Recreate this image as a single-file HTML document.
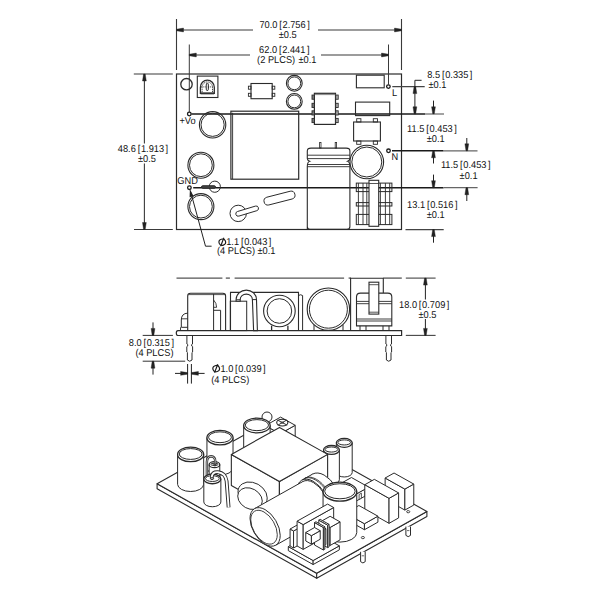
<!DOCTYPE html>
<html><head><meta charset="utf-8"><style>
html,body{margin:0;padding:0;background:#fff;width:612px;height:591px;overflow:hidden;}
svg{display:block;}
text{font-family:"Liberation Sans",sans-serif;fill:#111;text-rendering:geometricPrecision;}
</style></head><body>
<svg width="612" height="591" viewBox="0 0 612 591">
<rect width="612" height="591" fill="#fff"/>
<rect x="176.5" y="74.0" width="225.0" height="155.5" rx="0" fill="none" stroke="#2b2b2b" stroke-width="1.2"/>
<line x1="176.5" y1="19" x2="176.5" y2="70" stroke="#3a3a3a" stroke-width="1.1" />
<line x1="401.5" y1="19" x2="401.5" y2="70" stroke="#3a3a3a" stroke-width="1.1" />
<line x1="176.5" y1="30" x2="253" y2="30" stroke="#3a3a3a" stroke-width="1.1" />
<line x1="318" y1="30" x2="401.5" y2="30" stroke="#3a3a3a" stroke-width="1.1" />
<polygon points="176.50,29.20 183.50,28.10 183.50,31.90 176.50,30.80" fill="#222" stroke="#222" stroke-width="0.4" stroke-linejoin="round"/>
<polygon points="401.50,29.20 394.50,28.10 394.50,31.90 401.50,30.80" fill="#222" stroke="#222" stroke-width="0.4" stroke-linejoin="round"/>
<text x="259.41" y="27.8" font-size="9.5" textLength="18.03" lengthAdjust="spacingAndGlyphs" transform="matrix(1,0,0,1.05,0,-1.390)">70.0</text>
<text x="279.24" y="27.8" font-size="9.5" textLength="2.57" lengthAdjust="spacingAndGlyphs" transform="matrix(1,0,0,1.05,0,-1.390)">[</text>
<text x="282.51" y="27.8" font-size="9.5" textLength="23.18" lengthAdjust="spacingAndGlyphs" transform="matrix(1,0,0,1.05,0,-1.390)">2.756</text>
<text x="307.19" y="27.8" font-size="9.5" textLength="2.57" lengthAdjust="spacingAndGlyphs" transform="matrix(1,0,0,1.05,0,-1.390)">]</text>
<text x="278.71" y="37.6" font-size="9.5" textLength="17.96" lengthAdjust="spacingAndGlyphs" transform="matrix(1,0,0,1.05,0,-1.880)">±0.5</text>
<line x1="189.3" y1="44.5" x2="189.3" y2="112" stroke="#3a3a3a" stroke-width="1.0" />
<line x1="388.5" y1="44.5" x2="388.5" y2="84.5" stroke="#3a3a3a" stroke-width="1.0" />
<line x1="189.3" y1="55" x2="250" y2="55" stroke="#3a3a3a" stroke-width="1.1" />
<line x1="321" y1="55" x2="388.5" y2="55" stroke="#3a3a3a" stroke-width="1.1" />
<polygon points="189.30,54.20 196.30,53.10 196.30,56.90 189.30,55.80" fill="#222" stroke="#222" stroke-width="0.4" stroke-linejoin="round"/>
<polygon points="388.50,54.20 381.50,53.10 381.50,56.90 388.50,55.80" fill="#222" stroke="#222" stroke-width="0.4" stroke-linejoin="round"/>
<text x="259.11" y="53.3" font-size="9.5" textLength="18.03" lengthAdjust="spacingAndGlyphs" transform="matrix(1,0,0,1.05,0,-2.665)">62.0</text>
<text x="278.94" y="53.3" font-size="9.5" textLength="2.57" lengthAdjust="spacingAndGlyphs" transform="matrix(1,0,0,1.05,0,-2.665)">[</text>
<text x="282.21" y="53.3" font-size="9.5" textLength="23.18" lengthAdjust="spacingAndGlyphs" transform="matrix(1,0,0,1.05,0,-2.665)">2.441</text>
<text x="306.89" y="53.3" font-size="9.5" textLength="2.57" lengthAdjust="spacingAndGlyphs" transform="matrix(1,0,0,1.05,0,-2.665)">]</text>
<text x="257.10" y="62.6" font-size="9.5" textLength="38.09" lengthAdjust="spacingAndGlyphs" transform="matrix(1,0,0,1.05,0,-3.130)">(2 PLCS)</text>
<text x="298.51" y="62.6" font-size="9.5" textLength="17.96" lengthAdjust="spacingAndGlyphs" transform="matrix(1,0,0,1.05,0,-3.130)">±0.1</text>
<line x1="133.8" y1="74" x2="172.8" y2="74" stroke="#3a3a3a" stroke-width="1.1" />
<line x1="134" y1="229.5" x2="172.8" y2="229.5" stroke="#3a3a3a" stroke-width="1.1" />
<line x1="144.4" y1="74" x2="144.4" y2="143.5" stroke="#3a3a3a" stroke-width="1.1" />
<line x1="144.4" y1="163.5" x2="144.4" y2="229.5" stroke="#3a3a3a" stroke-width="1.1" />
<polygon points="143.60,74.00 142.50,81.00 146.30,81.00 145.20,74.00" fill="#222" stroke="#222" stroke-width="0.4" stroke-linejoin="round"/>
<polygon points="143.60,229.50 142.50,222.50 146.30,222.50 145.20,229.50" fill="#222" stroke="#222" stroke-width="0.4" stroke-linejoin="round"/>
<text x="117.81" y="152.2" font-size="9.5" textLength="18.03" lengthAdjust="spacingAndGlyphs" transform="matrix(1,0,0,1.05,0,-7.610)">48.6</text>
<text x="137.64" y="152.2" font-size="9.5" textLength="2.57" lengthAdjust="spacingAndGlyphs" transform="matrix(1,0,0,1.05,0,-7.610)">[</text>
<text x="140.91" y="152.2" font-size="9.5" textLength="23.18" lengthAdjust="spacingAndGlyphs" transform="matrix(1,0,0,1.05,0,-7.610)">1.913</text>
<text x="165.59" y="152.2" font-size="9.5" textLength="2.57" lengthAdjust="spacingAndGlyphs" transform="matrix(1,0,0,1.05,0,-7.610)">]</text>
<text x="137.91" y="162" font-size="9.5" textLength="17.96" lengthAdjust="spacingAndGlyphs" transform="matrix(1,0,0,1.05,0,-8.100)">±0.5</text>
<circle cx="189.3" cy="114" r="1.8" fill="none" stroke="#1a1a1a" stroke-width="1.3"/>
<circle cx="388.4" cy="86.6" r="1.8" fill="none" stroke="#1a1a1a" stroke-width="1.3"/>
<circle cx="388.5" cy="150.8" r="1.8" fill="none" stroke="#1a1a1a" stroke-width="1.3"/>
<circle cx="189.4" cy="187.7" r="1.8" fill="none" stroke="#1a1a1a" stroke-width="1.3"/>
<line x1="191.4" y1="114" x2="425" y2="114" stroke="#1a1a1a" stroke-width="1.4" />
<line x1="425" y1="114" x2="444" y2="114" stroke="#666" stroke-width="1.2" />
<line x1="392.3" y1="86.6" x2="424.7" y2="86.6" stroke="#444" stroke-width="1.1" />
<line x1="392.0" y1="150.8" x2="443.5" y2="150.8" stroke="#1a1a1a" stroke-width="1.4" />
<line x1="443.5" y1="150.8" x2="477.5" y2="150.8" stroke="#666" stroke-width="1.2" />
<line x1="193.2" y1="187.7" x2="443.5" y2="187.7" stroke="#1a1a1a" stroke-width="1.4" />
<line x1="443.5" y1="187.7" x2="477.6" y2="187.7" stroke="#666" stroke-width="1.2" />
<line x1="405.5" y1="229.6" x2="443.7" y2="229.6" stroke="#444" stroke-width="1.1" />
<text x="179.41" y="124" font-size="9.5" textLength="16.23" lengthAdjust="spacingAndGlyphs" transform="matrix(1,0,0,1.05,0,-6.200)">+Vo</text>
<text x="392.02" y="96.3" font-size="9.5" textLength="5.15" lengthAdjust="spacingAndGlyphs" transform="matrix(1,0,0,1.05,0,-4.815)">L</text>
<text x="391.42" y="160" font-size="9.5" textLength="6.69" lengthAdjust="spacingAndGlyphs" transform="matrix(1,0,0,1.05,0,-8.000)">N</text>
<text x="177.31" y="184.1" font-size="9.5" textLength="20.58" lengthAdjust="spacingAndGlyphs" transform="matrix(1,0,0,1.05,0,-9.205)">GND</text>
<line x1="414.9" y1="80.3" x2="414.9" y2="113.8" stroke="#222" stroke-width="1.0" />
<line x1="414.9" y1="80.3" x2="421.6" y2="80.3" stroke="#222" stroke-width="1.0" />
<polygon points="414.10,86.60 413.00,93.60 416.80,93.60 415.70,86.60" fill="#222" stroke="#222" stroke-width="0.4" stroke-linejoin="round"/>
<polygon points="414.10,113.80 413.00,106.80 416.80,106.80 415.70,113.80" fill="#222" stroke="#222" stroke-width="0.4" stroke-linejoin="round"/>
<text x="427.21" y="78.3" font-size="9.5" textLength="12.88" lengthAdjust="spacingAndGlyphs" transform="matrix(1,0,0,1.05,0,-3.915)">8.5</text>
<text x="441.89" y="78.3" font-size="9.5" textLength="2.57" lengthAdjust="spacingAndGlyphs" transform="matrix(1,0,0,1.05,0,-3.915)">[</text>
<text x="445.16" y="78.3" font-size="9.5" textLength="23.18" lengthAdjust="spacingAndGlyphs" transform="matrix(1,0,0,1.05,0,-3.915)">0.335</text>
<text x="469.84" y="78.3" font-size="9.5" textLength="2.57" lengthAdjust="spacingAndGlyphs" transform="matrix(1,0,0,1.05,0,-3.915)">]</text>
<text x="428.41" y="88" font-size="9.5" textLength="17.96" lengthAdjust="spacingAndGlyphs" transform="matrix(1,0,0,1.05,0,-4.400)">±0.1</text>
<line x1="433.5" y1="100.6" x2="433.5" y2="113.8" stroke="#222" stroke-width="1.0" />
<polygon points="432.70,113.80 431.60,106.80 435.40,106.80 434.30,113.80" fill="#222" stroke="#222" stroke-width="0.4" stroke-linejoin="round"/>
<line x1="433.5" y1="150.8" x2="433.5" y2="163.5" stroke="#222" stroke-width="1.0" />
<polygon points="432.70,150.80 431.60,157.80 435.40,157.80 434.30,150.80" fill="#222" stroke="#222" stroke-width="0.4" stroke-linejoin="round"/>
<text x="407.12" y="132" font-size="9.5" textLength="17.34" lengthAdjust="spacingAndGlyphs" transform="matrix(1,0,0,1.05,0,-6.600)">11.5</text>
<text x="426.26" y="132" font-size="9.5" textLength="2.57" lengthAdjust="spacingAndGlyphs" transform="matrix(1,0,0,1.05,0,-6.600)">[</text>
<text x="429.53" y="132" font-size="9.5" textLength="23.18" lengthAdjust="spacingAndGlyphs" transform="matrix(1,0,0,1.05,0,-6.600)">0.453</text>
<text x="454.21" y="132" font-size="9.5" textLength="2.57" lengthAdjust="spacingAndGlyphs" transform="matrix(1,0,0,1.05,0,-6.600)">]</text>
<text x="426.71" y="142.2" font-size="9.5" textLength="17.96" lengthAdjust="spacingAndGlyphs" transform="matrix(1,0,0,1.05,0,-7.110)">±0.1</text>
<line x1="466.8" y1="138" x2="466.8" y2="150.8" stroke="#222" stroke-width="1.0" />
<polygon points="466.00,150.80 464.90,143.80 468.70,143.80 467.60,150.80" fill="#222" stroke="#222" stroke-width="0.4" stroke-linejoin="round"/>
<line x1="466.8" y1="187.7" x2="466.8" y2="201" stroke="#222" stroke-width="1.0" />
<polygon points="466.00,187.70 464.90,194.70 468.70,194.70 467.60,187.70" fill="#222" stroke="#222" stroke-width="0.4" stroke-linejoin="round"/>
<text x="440.92" y="168.5" font-size="9.5" textLength="17.34" lengthAdjust="spacingAndGlyphs" transform="matrix(1,0,0,1.05,0,-8.425)">11.5</text>
<text x="460.06" y="168.5" font-size="9.5" textLength="2.57" lengthAdjust="spacingAndGlyphs" transform="matrix(1,0,0,1.05,0,-8.425)">[</text>
<text x="463.33" y="168.5" font-size="9.5" textLength="23.18" lengthAdjust="spacingAndGlyphs" transform="matrix(1,0,0,1.05,0,-8.425)">0.453</text>
<text x="488.01" y="168.5" font-size="9.5" textLength="2.57" lengthAdjust="spacingAndGlyphs" transform="matrix(1,0,0,1.05,0,-8.425)">]</text>
<text x="459.61" y="178.8" font-size="9.5" textLength="17.96" lengthAdjust="spacingAndGlyphs" transform="matrix(1,0,0,1.05,0,-8.940)">±0.1</text>
<line x1="433.5" y1="174.6" x2="433.5" y2="187.7" stroke="#222" stroke-width="1.0" />
<polygon points="432.70,187.70 431.60,180.70 435.40,180.70 434.30,187.70" fill="#222" stroke="#222" stroke-width="0.4" stroke-linejoin="round"/>
<line x1="433.5" y1="229.6" x2="433.5" y2="242.7" stroke="#222" stroke-width="1.0" />
<polygon points="432.70,229.60 431.60,236.60 435.40,236.60 434.30,229.60" fill="#222" stroke="#222" stroke-width="0.4" stroke-linejoin="round"/>
<text x="407.12" y="208" font-size="9.5" textLength="18.03" lengthAdjust="spacingAndGlyphs" transform="matrix(1,0,0,1.05,0,-10.400)">13.1</text>
<text x="426.95" y="208" font-size="9.5" textLength="2.57" lengthAdjust="spacingAndGlyphs" transform="matrix(1,0,0,1.05,0,-10.400)">[</text>
<text x="430.22" y="208" font-size="9.5" textLength="23.18" lengthAdjust="spacingAndGlyphs" transform="matrix(1,0,0,1.05,0,-10.400)">0.516</text>
<text x="454.90" y="208" font-size="9.5" textLength="2.57" lengthAdjust="spacingAndGlyphs" transform="matrix(1,0,0,1.05,0,-10.400)">]</text>
<text x="426.71" y="218.2" font-size="9.5" textLength="17.96" lengthAdjust="spacingAndGlyphs" transform="matrix(1,0,0,1.05,0,-10.910)">±0.1</text>
<path d="M190.3,190.5 L205.5,246.2 L211.6,246.2" fill="none" stroke="#222" stroke-width="1.0" />
<polygon points="189.9,189.5 189.6,197.2 193.6,196.1" fill="#222"/>
<ellipse cx="222.30" cy="242.20" rx="3.3" ry="3.1" fill="none" stroke="#1a1a1a" stroke-width="1.15" transform="rotate(-20 222.30 242.20)"/>
<line x1="220.60" y1="246.20" x2="223.90" y2="237.80" stroke="#1a1a1a" stroke-width="1.15"/>
<text x="226.22" y="244.8" font-size="9.5" textLength="12.88" lengthAdjust="spacingAndGlyphs" transform="matrix(1,0,0,1.05,0,-12.240)">1.1</text>
<text x="240.89" y="244.8" font-size="9.5" textLength="2.57" lengthAdjust="spacingAndGlyphs" transform="matrix(1,0,0,1.05,0,-12.240)">[</text>
<text x="244.17" y="244.8" font-size="9.5" textLength="23.18" lengthAdjust="spacingAndGlyphs" transform="matrix(1,0,0,1.05,0,-12.240)">0.043</text>
<text x="268.85" y="244.8" font-size="9.5" textLength="2.57" lengthAdjust="spacingAndGlyphs" transform="matrix(1,0,0,1.05,0,-12.240)">]</text>
<text x="217.00" y="253.9" font-size="9.5" textLength="38.09" lengthAdjust="spacingAndGlyphs" transform="matrix(1,0,0,1.05,0,-12.695)">(4 PLCS)</text>
<text x="257.51" y="253.9" font-size="9.5" textLength="17.96" lengthAdjust="spacingAndGlyphs" transform="matrix(1,0,0,1.05,0,-12.695)">±0.1</text>
<circle cx="186.5" cy="84.2" r="5.7" fill="none" stroke="#2b2b2b" stroke-width="1.3"/>
<rect x="197.3" y="76.1" width="20.6" height="21.4" rx="0" fill="none" stroke="#2b2b2b" stroke-width="1.1"/>
<path d="M200.4,93.3 L200.4,87.2 A6.95,7.1 0 0 1 214.3,87.2 L214.3,93.3 Z" fill="none" stroke="#2b2b2b" stroke-width="1.3" />
<path d="M202.1,92.2 L202.1,87.4 A5.2,5.5 0 0 1 212.5,87.4 L212.5,92.2" fill="none" stroke="#2b2b2b" stroke-width="0.9" stroke-dasharray="1.2,0.7"/>
<line x1="200.6" y1="93.4" x2="214.1" y2="93.4" stroke="#333" stroke-width="1.9" />
<ellipse cx="207.3" cy="86.9" rx="1.2" ry="4.0" fill="none" stroke="#2b2b2b" stroke-width="1.0"/>
<path d="M201,86.9 L213.6,86.9" fill="none" stroke="#2b2b2b" stroke-width="0.8" stroke-dasharray="1,0.8"/>
<rect x="251" y="83.5" width="21.2" height="15.2" rx="0" fill="none" stroke="#2b2b2b" stroke-width="1.1"/>
<rect x="248.4" y="86.2" width="2.6" height="3.0" rx="0" fill="none" stroke="#2b2b2b" stroke-width="0.9"/>
<rect x="272.2" y="86.2" width="2.6" height="3.0" rx="0" fill="none" stroke="#2b2b2b" stroke-width="0.9"/>
<rect x="248.4" y="93.3" width="2.6" height="3.0" rx="0" fill="none" stroke="#2b2b2b" stroke-width="0.9"/>
<rect x="272.2" y="93.3" width="2.6" height="3.0" rx="0" fill="none" stroke="#2b2b2b" stroke-width="0.9"/>
<circle cx="294.3" cy="83.3" r="7.9" fill="none" stroke="#2b2b2b" stroke-width="1.1"/>
<circle cx="294.3" cy="83.3" r="6.4" fill="none" stroke="#2b2b2b" stroke-width="1.0"/>
<circle cx="294.3" cy="101.4" r="7.9" fill="none" stroke="#2b2b2b" stroke-width="1.1"/>
<circle cx="294.3" cy="101.4" r="6.4" fill="none" stroke="#2b2b2b" stroke-width="1.0"/>
<circle cx="212.6" cy="124.8" r="13.2" fill="none" stroke="#2b2b2b" stroke-width="1.1"/>
<circle cx="212.6" cy="124.8" r="11.6" fill="none" stroke="#2b2b2b" stroke-width="1.0"/>
<circle cx="200.9" cy="165.2" r="13.0" fill="none" stroke="#2b2b2b" stroke-width="1.1"/>
<circle cx="200.9" cy="165.2" r="11.4" fill="none" stroke="#2b2b2b" stroke-width="1.0"/>
<circle cx="200.9" cy="206.6" r="13.0" fill="none" stroke="#2b2b2b" stroke-width="1.1"/>
<circle cx="200.9" cy="206.6" r="11.4" fill="none" stroke="#2b2b2b" stroke-width="1.0"/>
<rect x="230.9" y="111.2" width="67.8" height="68.0" rx="0" fill="none" stroke="#2b2b2b" stroke-width="1.2"/>
<line x1="232.6" y1="112.8" x2="232.6" y2="179" stroke="#2b2b2b" stroke-width="0.9" />
<rect x="314.4" y="93.3" width="21.1" height="31.1" rx="0" fill="none" stroke="#2b2b2b" stroke-width="1.2"/>
<rect x="312.0" y="95.05000000000001" width="2.4" height="4.2" rx="0" fill="#777" stroke="#2b2b2b" stroke-width="0.9"/>
<rect x="335.8" y="95.05000000000001" width="2.4" height="4.2" rx="0" fill="#bbb" stroke="#2b2b2b" stroke-width="0.9"/>
<rect x="312.0" y="103.30000000000001" width="2.4" height="4.2" rx="0" fill="#777" stroke="#2b2b2b" stroke-width="0.9"/>
<rect x="335.8" y="103.30000000000001" width="2.4" height="4.2" rx="0" fill="#bbb" stroke="#2b2b2b" stroke-width="0.9"/>
<rect x="312.0" y="110.80000000000001" width="2.4" height="4.2" rx="0" fill="#777" stroke="#2b2b2b" stroke-width="0.9"/>
<rect x="335.8" y="110.80000000000001" width="2.4" height="4.2" rx="0" fill="#bbb" stroke="#2b2b2b" stroke-width="0.9"/>
<rect x="312.0" y="118.4" width="2.4" height="4.2" rx="0" fill="#777" stroke="#2b2b2b" stroke-width="0.9"/>
<rect x="335.8" y="118.4" width="2.4" height="4.2" rx="0" fill="#bbb" stroke="#2b2b2b" stroke-width="0.9"/>
<line x1="314.6" y1="94.6" x2="335.6" y2="94.6" stroke="#666" stroke-width="0.8" />
<rect x="356.4" y="75.2" width="27.8" height="12.6" rx="0" fill="none" stroke="#2b2b2b" stroke-width="1.1"/>
<rect x="355.5" y="102.1" width="34.2" height="13.5" rx="0" fill="none" stroke="#2b2b2b" stroke-width="1.1"/>
<rect x="353.6" y="122" width="26.8" height="19" rx="0" fill="none" stroke="#2b2b2b" stroke-width="1.1"/>
<rect x="356.7" y="118.7" width="4.2" height="3.3" rx="0" fill="none" stroke="#2b2b2b" stroke-width="0.9"/>
<rect x="356.7" y="141" width="4.2" height="3.3" rx="0" fill="none" stroke="#2b2b2b" stroke-width="0.9"/>
<rect x="373.3" y="118.7" width="4.2" height="3.3" rx="0" fill="none" stroke="#2b2b2b" stroke-width="0.9"/>
<rect x="373.3" y="141" width="4.2" height="3.3" rx="0" fill="none" stroke="#2b2b2b" stroke-width="0.9"/>
<path d="M307.3,229 L307.3,166.7 Q307.3,162 309.6,161.3 Q307.3,160.5 307.3,158.6 L307.3,151 Q307.3,148.1 311,148.1 L346.2,148.1 Q349.9,148.1 349.9,151 L349.9,158.6 Q349.9,160.5 347.6,161.3 Q349.9,162 349.9,166.7 L349.9,226.5 Q349.9,229.3 347,229.3 L310,229.3 Q307.3,229.3 307.3,226.5" fill="none" stroke="#2b2b2b" stroke-width="1.1" />
<line x1="307.3" y1="155.2" x2="349.9" y2="155.2" stroke="#2b2b2b" stroke-width="0.9" />
<line x1="307.3" y1="158.6" x2="349.9" y2="158.6" stroke="#2b2b2b" stroke-width="0.9" />
<line x1="307.3" y1="164.5" x2="349.9" y2="164.5" stroke="#2b2b2b" stroke-width="0.9" />
<line x1="307.3" y1="166.7" x2="349.9" y2="166.7" stroke="#2b2b2b" stroke-width="0.9" />
<rect x="319.6" y="142.5" width="1.4" height="5.6" rx="0" fill="none" stroke="#2b2b2b" stroke-width="0.8"/>
<rect x="335.2" y="142.5" width="1.4" height="5.6" rx="0" fill="none" stroke="#2b2b2b" stroke-width="0.8"/>
<circle cx="366.8" cy="162" r="16.8" fill="none" stroke="#2b2b2b" stroke-width="1.1"/>
<circle cx="366.8" cy="162" r="15.0" fill="none" stroke="#2b2b2b" stroke-width="1.0"/>
<rect x="356.3" y="183.1" width="35.6" height="8.5" rx="0" fill="none" stroke="#2b2b2b" stroke-width="1.0"/>
<rect x="356.3" y="202.6" width="35.6" height="3.4" rx="0" fill="none" stroke="#2b2b2b" stroke-width="1.0"/>
<rect x="356.3" y="214.4" width="35.6" height="10.2" rx="0" fill="none" stroke="#2b2b2b" stroke-width="1.0"/>
<line x1="358.4" y1="183.1" x2="358.4" y2="224.6" stroke="#2b2b2b" stroke-width="0.9" />
<line x1="363" y1="183.1" x2="363" y2="224.6" stroke="#2b2b2b" stroke-width="0.9" />
<line x1="366.8" y1="183.1" x2="366.8" y2="224.6" stroke="#2b2b2b" stroke-width="0.9" />
<line x1="380.4" y1="183.1" x2="380.4" y2="224.6" stroke="#2b2b2b" stroke-width="0.9" />
<line x1="385.4" y1="183.1" x2="385.4" y2="224.6" stroke="#2b2b2b" stroke-width="0.9" />
<line x1="389.7" y1="183.1" x2="389.7" y2="224.6" stroke="#2b2b2b" stroke-width="0.9" />
<rect x="369" y="180.3" width="9.7" height="46" rx="0" fill="#fff" stroke="#2b2b2b" stroke-width="1.1"/>
<line x1="369" y1="183.5" x2="378.7" y2="183.5" stroke="#2b2b2b" stroke-width="0.8" />
<circle cx="214.8" cy="186.7" r="5.6" fill="none" stroke="#2b2b2b" stroke-width="1.0"/>
<path d="M202.80,188.30 L214.20,188.30 A1.3,1.3 0 0 0 214.20,185.70 L202.80,185.70 A1.3,1.3 0 0 0 202.80,188.30 Z" fill="#444" stroke="#222" stroke-width="0.9" />
<circle cx="238.2" cy="213.4" r="8.2" fill="none" stroke="#2b2b2b" stroke-width="1.0"/>
<path d="M238.89,216.10 L256.79,210.70 A2.4,2.4 0 0 0 255.41,206.10 L237.51,211.50 A2.4,2.4 0 0 0 238.89,216.10 Z" fill="#fff" stroke="#2b2b2b" stroke-width="1.0" />
<path d="M268.79,204.97 L292.19,198.97 A4.0,4.0 0 0 0 290.21,191.23 L266.81,197.23 A4.0,4.0 0 0 0 268.79,204.97 Z" fill="none" stroke="#2b2b2b" stroke-width="1.0" />
<line x1="176.5" y1="278.1" x2="222.4" y2="278.1" stroke="#555" stroke-width="1.3" />
<line x1="225.8" y1="278.1" x2="229.9" y2="278.1" stroke="#555" stroke-width="1.3" />
<line x1="234.6" y1="278.1" x2="344.1" y2="278.1" stroke="#555" stroke-width="1.3" />
<line x1="348.6" y1="278.1" x2="351" y2="278.1" stroke="#555" stroke-width="1.3" />
<line x1="383.3" y1="278.1" x2="401.8" y2="278.1" stroke="#555" stroke-width="1.3" />
<line x1="405.8" y1="278.1" x2="435.6" y2="278.1" stroke="#444" stroke-width="1.1" />
<line x1="405.8" y1="335.4" x2="435.6" y2="335.4" stroke="#444" stroke-width="1.1" />
<line x1="425.4" y1="278.1" x2="425.4" y2="299.5" stroke="#222" stroke-width="1.0" />
<line x1="425.4" y1="319" x2="425.4" y2="335.4" stroke="#222" stroke-width="1.0" />
<polygon points="424.60,278.10 423.50,285.10 427.30,285.10 426.20,278.10" fill="#222" stroke="#222" stroke-width="0.4" stroke-linejoin="round"/>
<polygon points="424.60,335.40 423.50,328.40 427.30,328.40 426.20,335.40" fill="#222" stroke="#222" stroke-width="0.4" stroke-linejoin="round"/>
<text x="399.02" y="308" font-size="9.5" textLength="18.03" lengthAdjust="spacingAndGlyphs" transform="matrix(1,0,0,1.05,0,-15.400)">18.0</text>
<text x="418.85" y="308" font-size="9.5" textLength="2.57" lengthAdjust="spacingAndGlyphs" transform="matrix(1,0,0,1.05,0,-15.400)">[</text>
<text x="422.12" y="308" font-size="9.5" textLength="23.18" lengthAdjust="spacingAndGlyphs" transform="matrix(1,0,0,1.05,0,-15.400)">0.709</text>
<text x="446.80" y="308" font-size="9.5" textLength="2.57" lengthAdjust="spacingAndGlyphs" transform="matrix(1,0,0,1.05,0,-15.400)">]</text>
<text x="418.41" y="317.8" font-size="9.5" textLength="17.96" lengthAdjust="spacingAndGlyphs" transform="matrix(1,0,0,1.05,0,-15.890)">±0.5</text>
<path d="M178,330.6 L401.6,330.6 L401.6,335.5 L178,335.5 Q176.3,335.5 176.3,333 Q176.3,330.6 178,330.6 Z" fill="none" stroke="#2b2b2b" stroke-width="1.2" />
<path d="M186.89999999999998,335.5 L186.89999999999998,344 L187.7,344.5 L187.7,346 L186.79999999999998,346.6 L186.79999999999998,352 L187.39999999999998,352.5 L187.39999999999998,360 Q189.7,362.5 192.0,360 L192.0,352.5 L192.6,352 L192.6,346.6 L191.7,346 L191.7,344.5 L192.5,344 L192.5,335.5" fill="none" stroke="#2b2b2b" stroke-width="1.0" />
<path d="M385.9,335.5 L385.9,344 L386.7,344.5 L386.7,346 L385.8,346.6 L385.8,352 L386.4,352.5 L386.4,360 Q388.7,362.5 391.0,360 L391.0,352.5 L391.59999999999997,352 L391.59999999999997,346.6 L390.7,346 L390.7,344.5 L391.5,344 L391.5,335.5" fill="none" stroke="#2b2b2b" stroke-width="1.0" />
<line x1="142.7" y1="335.4" x2="172.9" y2="335.4" stroke="#333" stroke-width="1.0" />
<line x1="142.7" y1="361.2" x2="185.2" y2="361.2" stroke="#333" stroke-width="1.0" />
<line x1="153" y1="322.4" x2="153" y2="335.4" stroke="#222" stroke-width="1.0" />
<polygon points="152.20,335.40 151.10,328.40 154.90,328.40 153.80,335.40" fill="#222" stroke="#222" stroke-width="0.4" stroke-linejoin="round"/>
<line x1="153" y1="361.2" x2="153" y2="374.6" stroke="#222" stroke-width="1.0" />
<polygon points="152.20,361.20 151.10,368.20 154.90,368.20 153.80,361.20" fill="#222" stroke="#222" stroke-width="0.4" stroke-linejoin="round"/>
<text x="128.81" y="345.7" font-size="9.5" textLength="12.88" lengthAdjust="spacingAndGlyphs" transform="matrix(1,0,0,1.05,0,-17.285)">8.0</text>
<text x="143.49" y="345.7" font-size="9.5" textLength="2.57" lengthAdjust="spacingAndGlyphs" transform="matrix(1,0,0,1.05,0,-17.285)">[</text>
<text x="146.76" y="345.7" font-size="9.5" textLength="23.18" lengthAdjust="spacingAndGlyphs" transform="matrix(1,0,0,1.05,0,-17.285)">0.315</text>
<text x="171.44" y="345.7" font-size="9.5" textLength="2.57" lengthAdjust="spacingAndGlyphs" transform="matrix(1,0,0,1.05,0,-17.285)">]</text>
<text x="135.40" y="355.5" font-size="9.5" textLength="38.09" lengthAdjust="spacingAndGlyphs" transform="matrix(1,0,0,1.05,0,-17.775)">(4 PLCS)</text>
<line x1="187.6" y1="364" x2="187.6" y2="383.6" stroke="#222" stroke-width="1.0" />
<line x1="191.4" y1="364" x2="191.4" y2="383.6" stroke="#222" stroke-width="1.0" />
<line x1="175" y1="373.4" x2="187.6" y2="373.4" stroke="#222" stroke-width="1.0" />
<polygon points="187.60,372.60 180.60,371.50 180.60,375.30 187.60,374.20" fill="#222" stroke="#222" stroke-width="0.4" stroke-linejoin="round"/>
<line x1="191.4" y1="373.4" x2="204.6" y2="373.4" stroke="#222" stroke-width="1.0" />
<polygon points="191.40,372.60 198.40,371.50 198.40,375.30 191.40,374.20" fill="#222" stroke="#222" stroke-width="0.4" stroke-linejoin="round"/>
<ellipse cx="216.20" cy="368.60" rx="3.3" ry="3.1" fill="none" stroke="#1a1a1a" stroke-width="1.15" transform="rotate(-20 216.20 368.60)"/>
<line x1="214.50" y1="372.60" x2="217.80" y2="364.20" stroke="#1a1a1a" stroke-width="1.15"/>
<text x="220.42" y="372.2" font-size="9.5" textLength="12.88" lengthAdjust="spacingAndGlyphs" transform="matrix(1,0,0,1.05,0,-18.610)">1.0</text>
<text x="235.09" y="372.2" font-size="9.5" textLength="2.57" lengthAdjust="spacingAndGlyphs" transform="matrix(1,0,0,1.05,0,-18.610)">[</text>
<text x="238.37" y="372.2" font-size="9.5" textLength="23.18" lengthAdjust="spacingAndGlyphs" transform="matrix(1,0,0,1.05,0,-18.610)">0.039</text>
<text x="263.05" y="372.2" font-size="9.5" textLength="2.57" lengthAdjust="spacingAndGlyphs" transform="matrix(1,0,0,1.05,0,-18.610)">]</text>
<text x="211.20" y="382.6" font-size="9.5" textLength="38.09" lengthAdjust="spacingAndGlyphs" transform="matrix(1,0,0,1.05,0,-19.130)">(4 PLCS)</text>
<path d="M187.7,330.6 L187.7,296 Q187.7,293.3 190.5,293.3 L222.8,293.3 Q225.6,293.3 225.6,296 L225.6,330.6" fill="none" stroke="#2b2b2b" stroke-width="1.1" />
<line x1="188.5" y1="294.6" x2="225" y2="294.6" stroke="#2b2b2b" stroke-width="0.8" />
<line x1="213.6" y1="294" x2="213.6" y2="330.6" stroke="#2b2b2b" stroke-width="1.0" />
<path d="M213.6,300 Q216.6,303 216.6,307.3 L213.6,307.3" fill="none" stroke="#2b2b2b" stroke-width="0.9" />
<path d="M213.6,310.3 L220.6,310.3 L220.6,330.6" fill="none" stroke="#2b2b2b" stroke-width="1.0" />
<path d="M187.7,313.1 Q181.3,313.5 181.3,320 L181.3,327.3 L187.7,327.3" fill="none" stroke="#2b2b2b" stroke-width="1.0" />
<line x1="181.3" y1="318.8" x2="187.7" y2="318.8" stroke="#2b2b2b" stroke-width="0.9" />
<line x1="180.5" y1="327.3" x2="180.5" y2="330.6" stroke="#2b2b2b" stroke-width="0.9" />
<path d="M230.5,330.6 L230.5,292.4 L298.5,292.4 L298.5,330.6" fill="none" stroke="#2b2b2b" stroke-width="1.1" />
<path d="M298.5,330.6 L298.5,295.5 Q300.5,294 302.6,295.5 L302.6,330.6" fill="none" stroke="#2b2b2b" stroke-width="1.0" />
<rect x="230.3" y="301.2" width="16.4" height="29.4" rx="0" fill="none" stroke="#2b2b2b" stroke-width="1.0"/>
<path d="M236.1,301.2 L236.1,299.6 A10.2,9.5 0 0 1 256.5,299.6 L257.4,330.6 L253.6,330.6 L252.4,299.6 A6.1,5.5 0 0 0 240.2,299.6 L240.2,301.2 Z" fill="#fff" stroke="#2b2b2b" stroke-width="1.1" />
<line x1="236.1" y1="299.8" x2="240.2" y2="299.8" stroke="#2b2b2b" stroke-width="1.0" />
<line x1="252.4" y1="299.6" x2="256.5" y2="299.6" stroke="#2b2b2b" stroke-width="1.0" />
<circle cx="279.4" cy="311" r="15.8" fill="none" stroke="#2b2b2b" stroke-width="1.1"/>
<circle cx="279.4" cy="311" r="12.3" fill="none" stroke="#2b2b2b" stroke-width="1.0"/>
<line x1="271.6" y1="325.7" x2="271.6" y2="330.6" stroke="#2b2b2b" stroke-width="1.3" />
<line x1="287.9" y1="325.7" x2="287.9" y2="330.6" stroke="#2b2b2b" stroke-width="1.3" />
<circle cx="328.4" cy="309.2" r="21.2" fill="none" stroke="#2b2b2b" stroke-width="1.1"/>
<circle cx="328.4" cy="309.2" r="19.0" fill="none" stroke="#2b2b2b" stroke-width="1.0"/>
<line x1="314" y1="325" x2="314" y2="330.6" stroke="#2b2b2b" stroke-width="1.0" />
<line x1="343" y1="325" x2="343" y2="330.6" stroke="#2b2b2b" stroke-width="1.0" />
<path d="M350.6,330.6 L350.6,278.2 L383.3,278.2 L383.3,293" fill="none" stroke="#2b2b2b" stroke-width="1.1" />
<path d="M356.5,325.9 L356.5,297 Q356.5,293.1 360.5,293.1 L387.8,293.1 Q391.8,293.1 391.8,297 L391.8,325.9 Z" fill="#fff" stroke="#2b2b2b" stroke-width="1.1" />
<line x1="356.5" y1="301.4" x2="391.8" y2="301.4" stroke="#2b2b2b" stroke-width="0.9" />
<line x1="356.5" y1="303.7" x2="391.8" y2="303.7" stroke="#2b2b2b" stroke-width="0.9" />
<line x1="356.5" y1="319" x2="391.8" y2="319" stroke="#2b2b2b" stroke-width="0.9" />
<line x1="356.5" y1="321" x2="391.8" y2="321" stroke="#2b2b2b" stroke-width="0.9" />
<rect x="369" y="282.2" width="9.8" height="31.9" rx="0" fill="#fff" stroke="#2b2b2b" stroke-width="1.1"/>
<line x1="369" y1="284.7" x2="378.8" y2="284.7" stroke="#2b2b2b" stroke-width="0.8" />
<line x1="369" y1="312.2" x2="378.8" y2="312.2" stroke="#2b2b2b" stroke-width="0.8" />
<line x1="360" y1="325.9" x2="360" y2="330.6" stroke="#2b2b2b" stroke-width="1.0" />
<line x1="366" y1="325.9" x2="366" y2="330.6" stroke="#2b2b2b" stroke-width="1.0" />
<line x1="383" y1="325.9" x2="383" y2="330.6" stroke="#2b2b2b" stroke-width="1.0" />
<line x1="389" y1="325.9" x2="389" y2="330.6" stroke="#2b2b2b" stroke-width="1.0" />
<polygon points="157.10,483.80 316.68,573.29 316.68,578.29 157.10,488.80" fill="#fff" stroke="#2b2b2b" stroke-width="1.1" stroke-linejoin="round"/>
<polygon points="316.68,573.29 426.90,511.48 426.90,516.48 316.68,578.29" fill="#fff" stroke="#2b2b2b" stroke-width="1.1" stroke-linejoin="round"/>
<polygon points="157.10,483.80 316.68,573.29 426.90,511.48 267.32,421.99" fill="#fff" stroke="#2b2b2b" stroke-width="1.1" stroke-linejoin="round"/>
<path d="M360.59999999999997,551.8 L360.59999999999997,561.7 Q362.9,564.2 365.2,561.7 L365.2,551.8" fill="#fff" stroke="#2b2b2b" stroke-width="1.0" />
<line x1="361.7" y1="555.8" x2="364.09999999999997" y2="555.8" stroke="#2b2b2b" stroke-width="0.7" />
<path d="M405.9,526.6 L405.9,535.4 Q408.2,537.9 410.5,535.4 L410.5,526.6" fill="#fff" stroke="#2b2b2b" stroke-width="1.0" />
<line x1="407.0" y1="530.6" x2="409.4" y2="530.6" stroke="#2b2b2b" stroke-width="0.7" />
<ellipse cx="362.9" cy="537.6" rx="1.6" ry="1.1" fill="none" stroke="#333" stroke-width="0.9"/>
<ellipse cx="408.2" cy="511.7" rx="1.6" ry="1.1" fill="none" stroke="#333" stroke-width="0.9"/>
<circle cx="267.0" cy="417.0" r="5.0" fill="#fff" stroke="#2b2b2b" stroke-width="1.0"/>
<polygon points="265.42,425.60 280.03,433.80 280.03,447.80 265.42,439.60" fill="#fff" stroke="#2b2b2b" stroke-width="1.0" stroke-linejoin="round"/>
<polygon points="280.03,433.80 295.19,425.29 295.19,439.29 280.03,447.80" fill="#fff" stroke="#2b2b2b" stroke-width="1.0" stroke-linejoin="round"/>
<polygon points="280.58,417.10 295.19,425.29 280.03,433.80 265.42,425.60" fill="#fff" stroke="#2b2b2b" stroke-width="1.0" stroke-linejoin="round"/>
<ellipse cx="282.3" cy="422.6" rx="5.6" ry="3.4" fill="none" stroke="#222" stroke-width="1.1"/>
<line x1="277.4" y1="420.0" x2="287.2" y2="425.2" stroke="#333" stroke-width="1.0" />
<line x1="277.8" y1="425.2" x2="286.8" y2="420.0" stroke="#333" stroke-width="1.0" />
<ellipse cx="282.3" cy="422.6" rx="1.8" ry="1.1" fill="#444" stroke="none"/>
<path d="M243.68,425.54 L243.68,456.54 A13.24,7.43 0 0 0 270.15,456.54 L270.15,425.54 Z" fill="#fff" stroke="#2b2b2b" stroke-width="1.0" />
<ellipse cx="256.92" cy="425.54" rx="13.24" ry="7.43" fill="#fff" stroke="#2b2b2b" stroke-width="1.3"/>
<ellipse cx="256.92" cy="425.14" rx="11.64" ry="5.53" fill="none" stroke="#2b2b2b" stroke-width="1.0"/>
<path d="M206.95,437.65 L206.95,467.95 A13.04,7.31 0 0 0 233.02,467.95 L233.02,437.65 Z" fill="#fff" stroke="#2b2b2b" stroke-width="1.0" />
<ellipse cx="219.98" cy="437.65" rx="13.04" ry="7.31" fill="#fff" stroke="#2b2b2b" stroke-width="1.3"/>
<ellipse cx="219.98" cy="437.25" rx="11.44" ry="5.41" fill="none" stroke="#2b2b2b" stroke-width="1.0"/>
<path d="M177.60,454.40 L177.60,484.40 A13.04,7.31 0 0 0 203.67,484.40 L203.67,454.40 Z" fill="#fff" stroke="#2b2b2b" stroke-width="1.0" />
<ellipse cx="190.64" cy="454.40" rx="13.04" ry="7.31" fill="#fff" stroke="#2b2b2b" stroke-width="1.3"/>
<ellipse cx="190.64" cy="454.00" rx="11.44" ry="5.41" fill="none" stroke="#2b2b2b" stroke-width="1.0"/>
<path d="M336.35,442.84 L336.35,472.54 A7.92,4.44 0 0 0 352.20,472.54 L352.20,442.84 Z" fill="#fff" stroke="#2b2b2b" stroke-width="1.0" />
<ellipse cx="344.28" cy="442.84" rx="7.92" ry="4.44" fill="#fff" stroke="#2b2b2b" stroke-width="1.3"/>
<ellipse cx="344.28" cy="442.44" rx="6.32" ry="2.54" fill="none" stroke="#2b2b2b" stroke-width="1.0"/>
<path d="M323.52,449.93 L323.52,479.73 A7.92,4.44 0 0 0 339.37,479.73 L339.37,449.93 Z" fill="#fff" stroke="#2b2b2b" stroke-width="1.0" />
<ellipse cx="331.45" cy="449.93" rx="7.92" ry="4.44" fill="#fff" stroke="#2b2b2b" stroke-width="1.3"/>
<ellipse cx="331.45" cy="449.53" rx="6.32" ry="2.54" fill="none" stroke="#2b2b2b" stroke-width="1.0"/>
<polygon points="231.34,454.44 279.42,481.41 279.42,512.41 231.34,485.44" fill="#fff" stroke="#2b2b2b" stroke-width="1.1" stroke-linejoin="round"/>
<polygon points="279.42,481.41 327.62,454.38 327.62,485.38 279.42,512.41" fill="#fff" stroke="#2b2b2b" stroke-width="1.1" stroke-linejoin="round"/>
<polygon points="279.53,427.41 327.62,454.38 279.42,481.41 231.34,454.44" fill="#fff" stroke="#2b2b2b" stroke-width="1.1" stroke-linejoin="round"/>
<polygon points="329.40,489.87 346.56,499.49 346.56,506.49 329.40,496.87" fill="#fff" stroke="#2b2b2b" stroke-width="1.0" stroke-linejoin="round"/>
<polygon points="346.56,499.49 368.61,487.13 368.61,494.13 346.56,506.49" fill="#fff" stroke="#2b2b2b" stroke-width="1.0" stroke-linejoin="round"/>
<polygon points="351.44,477.51 368.61,487.13 346.56,499.49 329.40,489.87" fill="#fff" stroke="#2b2b2b" stroke-width="1.0" stroke-linejoin="round"/>
<polygon points="364.85,491.24 367.12,489.97 367.12,494.97 364.85,496.24" fill="#fff" stroke="#2b2b2b" stroke-width="0.8" stroke-linejoin="round"/>
<polygon points="359.11,494.46 361.38,493.19 361.38,498.19 359.11,499.46" fill="#fff" stroke="#2b2b2b" stroke-width="0.8" stroke-linejoin="round"/>
<polygon points="354.08,497.28 356.34,496.01 356.34,501.01 354.08,502.28" fill="#fff" stroke="#2b2b2b" stroke-width="0.8" stroke-linejoin="round"/>
<polygon points="348.33,500.50 350.60,499.23 350.60,504.23 348.33,505.50" fill="#fff" stroke="#2b2b2b" stroke-width="0.8" stroke-linejoin="round"/>
<polygon points="385.13,478.03 404.85,489.08 404.85,510.08 385.13,499.03" fill="#fff" stroke="#2b2b2b" stroke-width="1.0" stroke-linejoin="round"/>
<polygon points="404.85,489.08 413.78,484.07 413.78,505.07 404.85,510.08" fill="#fff" stroke="#2b2b2b" stroke-width="1.0" stroke-linejoin="round"/>
<polygon points="394.06,473.02 413.78,484.07 404.85,489.08 385.13,478.03" fill="#fff" stroke="#2b2b2b" stroke-width="1.0" stroke-linejoin="round"/>
<polygon points="364.79,484.72 389.04,498.32 389.04,523.32 364.79,509.72" fill="#fff" stroke="#2b2b2b" stroke-width="1.0" stroke-linejoin="round"/>
<polygon points="389.04,498.32 398.61,492.95 398.61,517.95 389.04,523.32" fill="#fff" stroke="#2b2b2b" stroke-width="1.0" stroke-linejoin="round"/>
<polygon points="374.35,479.35 398.61,492.95 389.04,498.32 364.79,484.72" fill="#fff" stroke="#2b2b2b" stroke-width="1.0" stroke-linejoin="round"/>
<polygon points="345.43,513.06 364.44,523.72 364.44,529.72 345.43,519.06" fill="#fff" stroke="#2b2b2b" stroke-width="1.0" stroke-linejoin="round"/>
<polygon points="364.44,523.72 377.91,516.16 377.91,522.16 364.44,529.72" fill="#fff" stroke="#2b2b2b" stroke-width="1.0" stroke-linejoin="round"/>
<polygon points="358.90,505.51 377.91,516.16 364.44,523.72 345.43,513.06" fill="#fff" stroke="#2b2b2b" stroke-width="1.0" stroke-linejoin="round"/>
<path d="M209.14,464.70 L209.14,481.70 A5.32,2.98 0 0 0 219.77,481.70 L219.77,464.70 Z" fill="#fff" stroke="#2b2b2b" stroke-width="1.0" />
<ellipse cx="214.46" cy="464.70" rx="5.32" ry="2.98" fill="#fff" stroke="#2b2b2b" stroke-width="1.3"/>
<ellipse cx="214.46" cy="464.30" rx="3.72" ry="1.08" fill="none" stroke="#2b2b2b" stroke-width="1.0"/>
<path d="M206.9,478 L206.9,462 Q207.2,456.3 211,456.3 Q215.2,456.6 215.2,461 L215,464.6" fill="none" stroke="#2b2b2b" stroke-width="2.4" stroke-linecap="butt"/>
<path d="M206.9,478 L206.9,462 Q207.2,456.3 211,456.3 Q215.2,456.6 215.2,461 L215,464.6" fill="none" stroke="#fff" stroke-width="0.7" stroke-linecap="butt"/>
<ellipse cx="214.9" cy="465" rx="1.3" ry="0.9" fill="none" stroke="#2b2b2b" stroke-width="0.9"/>
<path d="M203.82,478.98 L203.82,501.98 A8.52,4.78 0 0 0 220.87,501.98 L220.87,478.98 Z" fill="#fff" stroke="#2b2b2b" stroke-width="1.0" />
<ellipse cx="212.34" cy="478.98" rx="8.52" ry="4.78" fill="#fff" stroke="#2b2b2b" stroke-width="1.3"/>
<ellipse cx="212.34" cy="478.58" rx="6.92" ry="2.88" fill="none" stroke="#2b2b2b" stroke-width="1.0"/>
<path d="M211.8,478.5 L211.8,476.5 Q212.5,471.8 218,472.2 Q225.4,473 226.6,481 L228.6,507.4" fill="none" stroke="#2b2b2b" stroke-width="3.8" stroke-linecap="butt"/>
<path d="M211.8,478.5 L211.8,476.5 Q212.5,471.8 218,472.2 Q225.4,473 226.6,481 L228.6,507.4" fill="none" stroke="#fff" stroke-width="1.9" stroke-linecap="butt"/>
<ellipse cx="212" cy="478.6" rx="1.6" ry="1.0" fill="none" stroke="#2b2b2b" stroke-width="0.9"/>
<g transform="matrix(14.603,2.980,0,-12.600,252.60,494.90)"><circle r="1" fill="#fff" stroke="#2b2b2b" stroke-width="1.0" vector-effect="non-scaling-stroke"/></g>
<g transform="matrix(12.285,2.507,0,-10.600,250.00,498.60)"><circle r="1" fill="#fff" stroke="#2b2b2b" stroke-width="1.0" vector-effect="non-scaling-stroke"/></g>
<g transform="matrix(16.312,9.148,0,-18.707,324.16,493.80)"><circle r="1" fill="#fff" stroke="#2b2b2b" stroke-width="1.0" vector-effect="non-scaling-stroke" /></g>
<path d="M324.58,519.73 L335.57,513.57 L312.75,474.03 L301.77,480.19 Z" fill="#fff" stroke="none"/>
<path d="M324.58,519.73 L335.57,513.57 M312.75,474.03 L301.77,480.19" fill="none" stroke="#2b2b2b" stroke-width="1.0" />
<g transform="matrix(16.312,9.148,0,-18.707,313.17,499.96)"><circle r="1" fill="#fff" stroke="#2b2b2b" stroke-width="1.0" vector-effect="non-scaling-stroke" /></g>
<path d="M326.83,518.74 L327.81,518.09 L328.70,517.29 L329.48,516.35 L330.16,515.27 L330.73,514.07 L331.17,512.76 L331.50,511.33 L331.70,509.81 L331.78,508.21 L331.73,506.54 L331.56,504.80 L331.26,503.02 L330.84,501.21 L330.31,499.38 L329.66,497.55 L328.90,495.72 L328.03,493.92 L327.07,492.15 L326.02,490.44 L324.89,488.78 L323.69,487.21 L322.42,485.72 L321.10,484.33 L319.73,483.05 L318.33,481.89 L316.91,480.86 L315.47,479.97 L314.03,479.22 L312.61,478.62 L311.20,478.17 L309.82,477.87 L308.49,477.74 L307.21,477.77 L305.99,477.96 L304.84,478.30 L303.77,478.80" fill="none" stroke="#2b2b2b" stroke-width="0.9" />
<path d="M327.89,518.15 L328.88,517.49 L329.76,516.69 L330.55,515.75 L331.23,514.68 L331.79,513.48 L332.24,512.16 L332.56,510.74 L332.76,509.22 L332.84,507.61 L332.79,505.94 L332.62,504.21 L332.33,502.43 L331.91,500.61 L331.37,498.78 L330.72,496.95 L329.96,495.12 L329.10,493.32 L328.14,491.55 L327.09,489.84 L325.96,488.19 L324.75,486.61 L323.48,485.12 L322.16,483.74 L320.79,482.46 L319.39,481.30 L317.97,480.27 L316.54,479.37 L315.10,478.62 L313.67,478.02 L312.26,477.57 L310.89,477.28 L309.55,477.15 L308.27,477.17 L307.05,477.36 L305.90,477.70 L304.83,478.21" fill="none" stroke="#2b2b2b" stroke-width="0.9" />
<g transform="matrix(15.107,8.471,0,-17.324,313.39,499.84)"><circle r="1" fill="#fff" stroke="#2b2b2b" stroke-width="1.0" vector-effect="non-scaling-stroke" /></g>
<path d="M275.68,545.22 L323.95,518.15 L302.82,481.54 L254.55,508.61 Z" fill="#fff" stroke="none"/>
<path d="M275.68,545.22 L323.95,518.15 M302.82,481.54 L254.55,508.61" fill="none" stroke="#2b2b2b" stroke-width="1.0" />
<g transform="matrix(15.107,8.471,0,-17.324,265.12,526.91)"><circle r="1" fill="#fff" stroke="#2b2b2b" stroke-width="1.0" vector-effect="non-scaling-stroke" /></g>
<g transform="matrix(13.275,7.445,0,-15.224,264.02,527.21)"><circle r="1" fill="none" stroke="#2b2b2b" stroke-width="0.9" vector-effect="non-scaling-stroke" /></g>
<path d="M323.06,491.66 L323.06,532.66 A16.85,9.45 0 0 0 356.76,532.66 L356.76,491.66 Z" fill="#fff" stroke="#2b2b2b" stroke-width="1.0" />
<ellipse cx="339.91" cy="491.66" rx="16.85" ry="9.45" fill="#fff" stroke="#2b2b2b" stroke-width="1.3"/>
<ellipse cx="339.91" cy="491.26" rx="15.25" ry="7.55" fill="none" stroke="#2b2b2b" stroke-width="1.0"/>
<polygon points="288.30,546.62 313.13,560.54 313.13,564.54 288.30,550.62" fill="#fff" stroke="#2b2b2b" stroke-width="1.0" stroke-linejoin="round"/>
<polygon points="313.13,560.54 339.35,545.83 339.35,549.83 313.13,564.54" fill="#fff" stroke="#2b2b2b" stroke-width="1.0" stroke-linejoin="round"/>
<polygon points="314.53,531.91 339.35,545.83 313.13,560.54 288.30,546.62" fill="#fff" stroke="#2b2b2b" stroke-width="1.0" stroke-linejoin="round"/>
<polygon points="290.08,529.02 293.55,530.97 293.55,547.97 290.08,546.02" fill="#fff" stroke="#2b2b2b" stroke-width="1.0" stroke-linejoin="round"/>
<polygon points="293.55,530.97 304.89,524.61 304.89,541.61 293.55,547.97" fill="#fff" stroke="#2b2b2b" stroke-width="1.0" stroke-linejoin="round"/>
<polygon points="301.42,522.66 304.89,524.61 293.55,530.97 290.08,529.02" fill="#fff" stroke="#2b2b2b" stroke-width="1.0" stroke-linejoin="round"/>
<polygon points="297.09,521.18 303.19,524.60 303.19,549.40 297.09,545.98" fill="#fff" stroke="#2b2b2b" stroke-width="1.0" stroke-linejoin="round"/>
<polygon points="303.19,524.60 333.67,507.51 333.67,532.31 303.19,549.40" fill="#fff" stroke="#2b2b2b" stroke-width="1.0" stroke-linejoin="round"/>
<polygon points="327.57,504.09 333.67,507.51 303.19,524.60 297.09,521.18" fill="#fff" stroke="#2b2b2b" stroke-width="1.0" stroke-linejoin="round"/>
<polygon points="320.21,521.86 330.14,527.43 330.14,545.43 320.21,539.86" fill="#fff" stroke="#2b2b2b" stroke-width="1.0" stroke-linejoin="round"/>
<polygon points="330.14,527.43 340.06,521.87 340.06,539.87 330.14,545.43" fill="#fff" stroke="#2b2b2b" stroke-width="1.0" stroke-linejoin="round"/>
<polygon points="330.13,516.30 340.06,521.87 330.14,527.43 320.21,521.86" fill="#fff" stroke="#2b2b2b" stroke-width="1.0" stroke-linejoin="round"/>
<polygon points="318.79,520.16 327.65,525.13 327.65,547.63 318.79,542.66" fill="#fff" stroke="#2b2b2b" stroke-width="1.0" stroke-linejoin="round"/>
<polygon points="327.65,525.13 329.07,524.34 329.07,546.84 327.65,547.63" fill="#fff" stroke="#2b2b2b" stroke-width="1.0" stroke-linejoin="round"/>
<polygon points="320.21,519.36 329.07,524.34 327.65,525.13 318.79,520.16" fill="#fff" stroke="#2b2b2b" stroke-width="1.0" stroke-linejoin="round"/>
<polygon points="315.95,526.25 323.05,530.23 323.05,546.23 315.95,542.25" fill="#fff" stroke="#2b2b2b" stroke-width="1.0" stroke-linejoin="round"/>
<polygon points="323.05,530.23 325.88,528.64 325.88,544.64 323.05,546.23" fill="#fff" stroke="#2b2b2b" stroke-width="1.0" stroke-linejoin="round"/>
<polygon points="318.79,524.66 325.88,528.64 323.05,530.23 315.95,526.25" fill="#fff" stroke="#2b2b2b" stroke-width="1.0" stroke-linejoin="round"/>
<polygon points="314.54,522.54 323.40,527.52 323.40,550.02 314.54,545.04" fill="#fff" stroke="#2b2b2b" stroke-width="1.0" stroke-linejoin="round"/>
<polygon points="323.40,527.52 324.82,526.72 324.82,549.22 323.40,550.02" fill="#fff" stroke="#2b2b2b" stroke-width="1.0" stroke-linejoin="round"/>
<polygon points="315.95,521.75 324.82,526.72 323.40,527.52 314.54,522.54" fill="#fff" stroke="#2b2b2b" stroke-width="1.0" stroke-linejoin="round"/>
<polygon points="305.75,532.47 311.42,535.66 311.42,544.16 305.75,540.97" fill="#fff" stroke="#2b2b2b" stroke-width="1.0" stroke-linejoin="round"/>
<polygon points="311.42,535.66 320.21,530.73 320.21,539.23 311.42,544.16" fill="#fff" stroke="#2b2b2b" stroke-width="1.0" stroke-linejoin="round"/>
<polygon points="314.54,527.54 320.21,530.73 311.42,535.66 305.75,532.47" fill="#fff" stroke="#2b2b2b" stroke-width="1.0" stroke-linejoin="round"/>
</svg></body></html>
